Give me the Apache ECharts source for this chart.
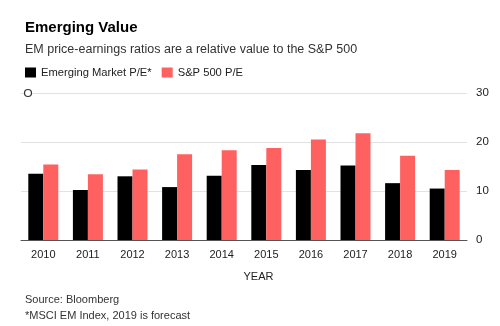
<!DOCTYPE html>
<html>
<head>
<meta charset="utf-8">
<script src="https://cdn.jsdelivr.net/npm/echarts@6/dist/echarts.min.js"></script>
<style>
  html, body { margin: 0; padding: 0; background: #fff; }
  #chart { width: 500px; height: 326px; }
</style>
</head>
<body>
<div id="chart"></div>
<script>
// Price-earnings ratios by year
const years = ['2010', '2011', '2012', '2013', '2014', '2015', '2016', '2017', '2018', '2019'];
const emergingPE = [13.5, 10.2, 13.0, 10.8, 13.1, 15.3, 14.3, 15.2, 11.6, 10.5];
const sp500PE = [15.4, 13.4, 14.4, 17.5, 18.3, 18.8, 20.5, 21.8, 17.2, 14.3];
const yTicks = [0, 10, 20, 30];

const FONT = '"Liberation Sans", Arial, sans-serif';
const RED = '#ff6161';

const chart = echarts.init(document.getElementById('chart'), null, { renderer: 'canvas' });

chart.setOption({
  animation: false,
  textStyle: { fontFamily: FONT },
  title: [
    {
      text: 'Emerging Value',
      left: 20, top: 15,
      textStyle: { fontFamily: FONT, fontSize: 15, fontWeight: 'bold', color: '#000' }
    },
    {
      text: 'EM price-earnings ratios are a relative value to the S&P 500',
      left: 20, top: 38,
      textStyle: { fontFamily: FONT, fontSize: 12.5, fontWeight: 'normal', color: '#333' }
    },
    {
      text: 'Source: Bloomberg',
      left: 20, top: 289,
      textStyle: { fontFamily: FONT, fontSize: 11, fontWeight: 'normal', color: '#333' }
    },
    {
      text: '*MSCI EM Index, 2019 is forecast',
      left: 20, top: 305,
      textStyle: { fontFamily: FONT, fontSize: 11, fontWeight: 'normal', color: '#333' }
    }
  ],
  legend: {
    left: 20, top: 62,
    itemWidth: 11, itemHeight: 10, itemGap: 10,
    icon: 'rect',
    textStyle: { fontFamily: FONT, fontSize: 11.2, color: '#222' },
    data: ['Emerging Market P/E*', 'S&P 500 P/E']
  },
  grid: { left: 21, right: 33, top: 93, bottom: 86, containLabel: false },
  xAxis: {
    type: 'category',
    data: years,
    name: 'YEAR',
    nameLocation: 'middle',
    nameGap: 31,
    nameTextStyle: { fontFamily: FONT, fontSize: 11, color: '#222', padding: [0, 0, 0, 29] },
    axisLine: { lineStyle: { color: '#555', width: 1 } },
    axisTick: { alignWithLabel: true, length: 4, lineStyle: { color: '#555' } },
    axisLabel: { fontFamily: FONT, fontSize: 11, color: '#222', margin: 9 }
  },
  yAxis: {
    type: 'value',
    position: 'right',
    min: yTicks[0], max: yTicks[yTicks.length - 1], interval: 10,
    axisLine: { show: false },
    axisTick: { show: false },
    axisLabel: { fontFamily: FONT, fontSize: 11.5, color: '#222', margin: 9, align: 'left' },
    splitLine: { lineStyle: { color: '#e2e2e2', width: 1 } }
  },
  series: [
    {
      name: 'Emerging Market P/E*',
      type: 'bar',
      data: emergingPE,
      barWidth: 15,
      barGap: '0%',
      itemStyle: { color: '#000' }
    },
    {
      name: 'S&P 500 P/E',
      type: 'bar',
      data: sp500PE,
      barWidth: 15,
      barGap: '0%',
      itemStyle: { color: RED }
    }
  ],
  graphic: [
    {
      // small hollow marker at the top-left end of the 30 gridline
      type: 'circle',
      z: 100,
      shape: { cx: 28, cy: 93, r: 3.5 },
      style: { fill: '#fff', stroke: '#333', lineWidth: 1.2 }
    }
  ]
});
</script>
</body>
</html>
